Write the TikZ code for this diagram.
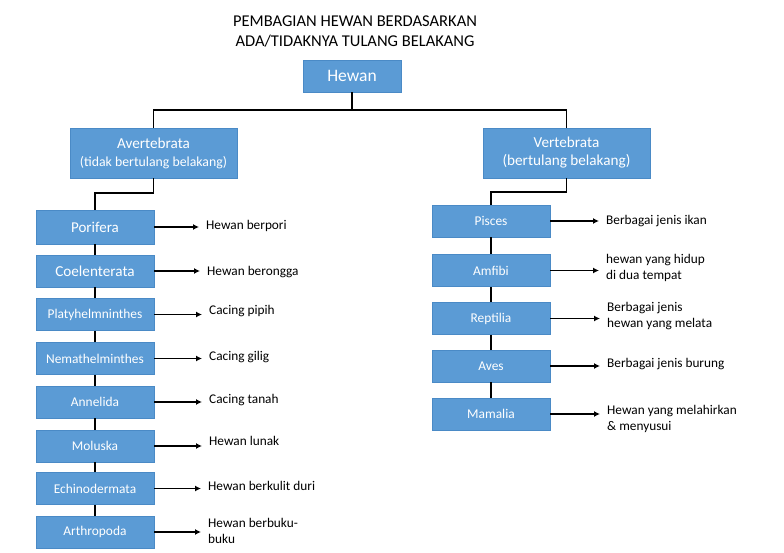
\documentclass[tikz,border=0pt]{standalone}
\usepackage{fontspec}
\setmainfont{Carlito}
\usetikzlibrary{arrows.meta}
\definecolor{boxblue}{HTML}{5B9BD5}
\definecolor{boxedge}{HTML}{4A8AC6}
\begin{document}
\begin{tikzpicture}[x=1pt,y=-1pt,
  box/.style={fill=boxblue,draw=boxedge,line width=0.6pt,text=white,align=center,inner sep=0pt,minimum width=118,minimum height=32,font=\fontsize{13.4}{16}\selectfont},
  big/.style={box,minimum width=167,minimum height=50,font=\fontsize{15.2}{18}\selectfont},
  lab/.style={anchor=west,align=left,inner sep=0pt,font=\fontsize{13.3}{16}\selectfont},
  con/.style={line width=1.8pt,black},
  arr/.style={con,-{Latex[length=6pt,width=6pt]},shorten >=7pt}]
\useasboundingbox (0,0) rectangle (784,553);
\node[align=center,font=\fontsize{16.5}{20}\selectfont] (title) at (355,32) {PEMBAGIAN HEWAN BERDASARKAN\\ADA/TIDAKNYA TULANG BELAKANG};
\node[box,minimum width=98,font=\fontsize{17.5}{20}\selectfont] (hewan) at (352,76) {Hewan};
\node[big] (avert) at (153.5,153) {Avertebrata\\{\fontsize{13.8}{16}\selectfont(tidak bertulang belakang)}};
\node[big] (vert) at (566.5,153) {Vertebrata\\(bertulang belakang)};
\draw[con] (hewan.south) -- ++(0,18) coordinate (j);
\draw[con] (avert.north) |- (j) -| (vert.north);
% left column
\node[box,minimum height=34,font=\fontsize{15}{17}\selectfont] (a1) at (95,227) {Porifera};
\node[box,font=\fontsize{15.2}{17}\selectfont] (a2) at (95,271) {Coelenterata};
\node[box] (a3) at (95,314.5) {Platyhelmninthes};
\node[box] (a4) at (95,358.5) {Nemathelminthes};
\node[box] (a5) at (95,402) {Annelida};
\node[box] (a6) at (95,446) {Moluska};
\node[box] (a7) at (95,488.5) {Echinodermata};
\node[box] (a8) at (95,532) {Arthropoda};
\draw[con] (avert.south) -- ++(0,15) -| (a1.north);
\foreach \i/\j in {1/2,2/3,3/4,4/5,5/6,6/7,7/8} \draw[con] (a\i.south) -- (a\j.north);
\node[lab] (b1) at (206,226) {Hewan berpori};
\node[lab] (b2) at (207,272) {Hewan berongga};
\node[lab] (b3) at (209,311) {Cacing pipih};
\node[lab] (b4) at (209,357) {Cacing gilig};
\node[lab] (b5) at (209,400) {Cacing tanah};
\node[lab] (b6) at (209,441) {Hewan lunak};
\node[lab] (b7) at (208,486) {Hewan berkulit duri};
\node[lab] (b8) at (208,530.5) {Hewan berbuku-\\buku};
\foreach \i in {1,...,8} \draw[arr] (a\i.east) -- (a\i.east -| b\i.west);
% right column
\node[box] (v1) at (491,221) {Pisces};
\node[box] (v2) at (491,270.5) {Amfibi};
\node[box] (v3) at (491,318.5) {Reptilia};
\node[box] (v4) at (491,366) {Aves};
\node[box] (v5) at (491,414) {Mamalia};
\draw[con] (vert.south) -- ++(0,14) -| (v1.north);
\foreach \i/\j in {1/2,2/3,3/4,4/5} \draw[con] (v\i.south) -- (v\j.north);
\node[lab] (w1) at (606,221) {Berbagai jenis ikan};
\node[lab] (w2) at (606,267.5) {hewan yang hidup\\di dua tempat};
\node[lab] (w3) at (607,316.5) {Berbagai jenis\\hewan yang melata};
\node[lab] (w4) at (607,364) {Berbagai jenis burung};
\node[lab] (w5) at (607,419) {Hewan yang melahirkan\\\& menyusui};
\foreach \i in {1,...,5} \draw[arr] (v\i.east) -- (v\i.east -| w\i.west);
\end{tikzpicture}
\end{document}
